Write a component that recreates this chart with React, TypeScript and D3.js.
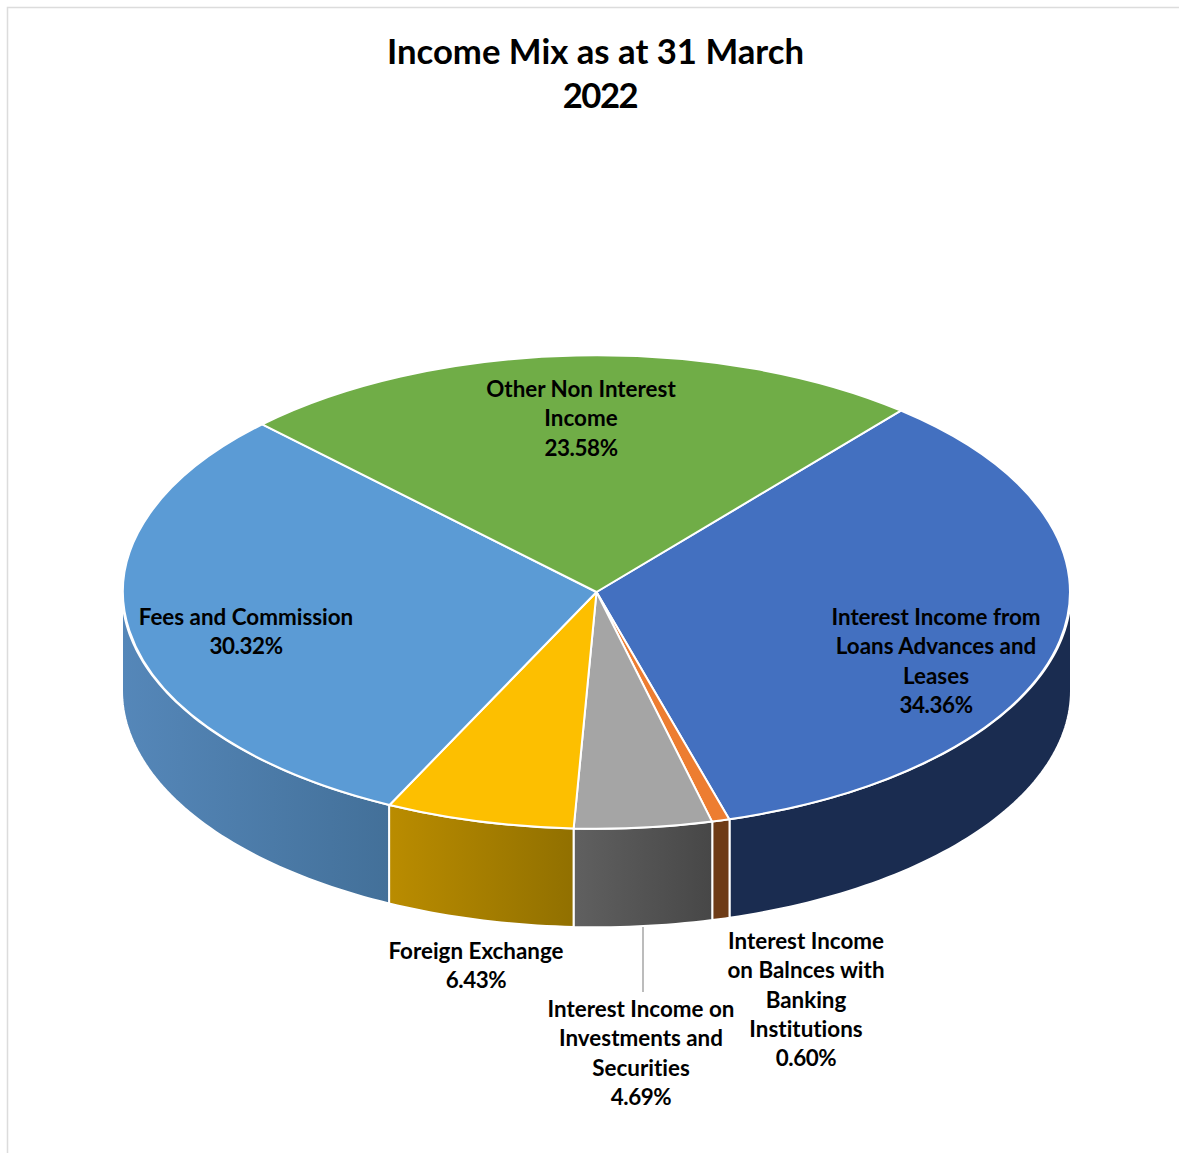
import React from "react";
import * as d3 from "d3";

// Income shares in percent, clockwise from the upper right of the disc
const categories = [
  "Interest Income from Loans Advances and Leases",
  "Interest Income on Balnces with Banking Institutions",
  "Interest Income on Investments and Securities",
  "Foreign Exchange",
  "Fees and Commission",
  "Other Non Interest Income",
];
const shares = [34.36, 0.6, 4.69, 6.43, 30.32, 23.58];
const shareLabels = ["34.36%", "0.60%", "4.69%", "6.43%", "30.32%", "23.58%"];
const wrappedNames = [
  ["Interest Income from", "Loans Advances and", "Leases"],
  ["Interest Income", "on Balnces with", "Banking", "Institutions"],
  ["Interest Income on", "Investments and", "Securities"],
  ["Foreign Exchange"],
  ["Fees and Commission"],
  ["Other Non Interest", "Income"],
];
const topColors = ["#4370C0", "#ED7D31", "#A5A5A5", "#FDBF00", "#5B9BD5", "#70AD47"];
const wallFrom = ["#1A2C50", "#6E3B16", "#606060", "#BA8C00", "#5587B9", "#4E7A32"];
const wallTo = ["#1A2C50", "#6E3B16", "#474747", "#917000", "#437099", "#4E7A32"];
const titleLines = ["Income Mix as at 31 March", "2022"];

// Label placement: centre x and first baseline of each text block
const labelX = [936, 806, 641, 476, 246, 581];
const labelY = [625, 949, 1017, 959, 625, 397];

const WIDTH = 1179;
const HEIGHT = 1153;
const CX = 596.5;
const CY = 592;
const RX = 473.5;
const TILT = 0.5;
const DEPTH = 98.5;
const START = (40 * Math.PI) / 180;
const LINE_HEIGHT = 29.3;
const FONT = "Lato, 'Noto Sans', sans-serif";

export default function App() {
  const pie = d3
    .pie<number>()
    .sort(null)
    .startAngle(START)
    .endAngle(START + 2 * Math.PI);
  const arcs = pie(shares);
  const arc = d3.arc<d3.PieArcDatum<number>>().innerRadius(0).outerRadius(RX);

  // Points on the rim for a given angle (0 at the top, clockwise)
  const rim = (a: number, drop: number): [number, number] => [
    CX + (RX + 1) * Math.sin(a),
    CY - RX * TILT * Math.cos(a) + drop,
  ];
  const outline = d3.line();

  const wallPath = (a0: number, a1: number) => {
    const from = Math.max(a0, Math.PI / 2);
    const to = Math.min(a1, (3 * Math.PI) / 2);
    if (from >= to) return null;
    const steps = Math.max(4, Math.ceil((to - from) / 0.02));
    const t = d3.scaleLinear().domain([0, steps]).range([from, to]);
    const upper = d3.range(steps + 1).map((i) => rim(t(i), 0));
    const lower = d3.range(steps + 1).map((i) => rim(t(steps - i), DEPTH));
    return outline([...upper, ...lower]) + "Z";
  };

  return (
    <svg
      width={WIDTH}
      height={HEIGHT}
      viewBox={`0 0 ${WIDTH} ${HEIGHT}`}
      style={{ position: "absolute", left: 0, top: 0, background: "#fff", fontVariantLigatures: "none" }}
      fontFamily={FONT}
      fontWeight={700}
    >
      <defs>
        {arcs.map((_, i) => (
          <linearGradient key={i} id={`wall-${i}`} x1="0" x2="1" y1="0" y2="0">
            <stop offset="0" stopColor={wallFrom[i]} />
            <stop offset="1" stopColor={wallTo[i]} />
          </linearGradient>
        ))}
      </defs>

      {/* Chart frame, visible along the top and left */}
      <path d={`M7.5 1153V7.5H1179`} fill="none" stroke="#dcdcdc" strokeWidth={1.5} />

      {/* Side walls of the disc */}
      {arcs.map((d, i) => {
        const p = wallPath(d.startAngle, d.endAngle);
        return p ? (
          <path
            key={categories[i]}
            d={p}
            fill={`url(#wall-${i})`}
            stroke="#fff"
            strokeWidth={2}
            strokeLinejoin="round"
          />
        ) : null;
      })}

      {/* Top surface */}
      <g transform={`translate(${CX},${CY}) scale(1,${TILT})`}>
        {arcs.map((d, i) => (
          <path
            key={categories[i]}
            d={arc(d) as string}
            fill={topColors[i]}
            stroke="#fff"
            strokeWidth={2}
            strokeLinejoin="round"
            vectorEffect="non-scaling-stroke"
          />
        ))}
      </g>

      {/* Leader for the investments label */}
      <line x1={643} x2={643} y1={927} y2={992} stroke="#a6a6a6" strokeWidth={1.5} />

      {/* Title */}
      <g fontSize={34.7} textAnchor="middle" fill="#000">
        <text x={595.5} y={63.5}>{titleLines[0]}</text>
        <text x={600} y={107.5} letterSpacing={-1.5}>{titleLines[1]}</text>
      </g>

      {/* Data labels */}
      <g fontSize={22.4} textAnchor="middle" fill="#000">
        {categories.map((c, i) => {
          const lines = wrappedNames[i];
          return (
            <text key={c} x={labelX[i]} y={labelY[i]}>
              {lines.map((line, j) => (
                <tspan key={j} x={labelX[i]} y={labelY[i] + j * LINE_HEIGHT}>
                  {line}
                </tspan>
              ))}
              <tspan
                x={labelX[i]}
                y={labelY[i] + lines.length * LINE_HEIGHT}
                letterSpacing={-0.4}
              >
                {shareLabels[i]}
              </tspan>
            </text>
          );
        })}
      </g>
    </svg>
  );
}
